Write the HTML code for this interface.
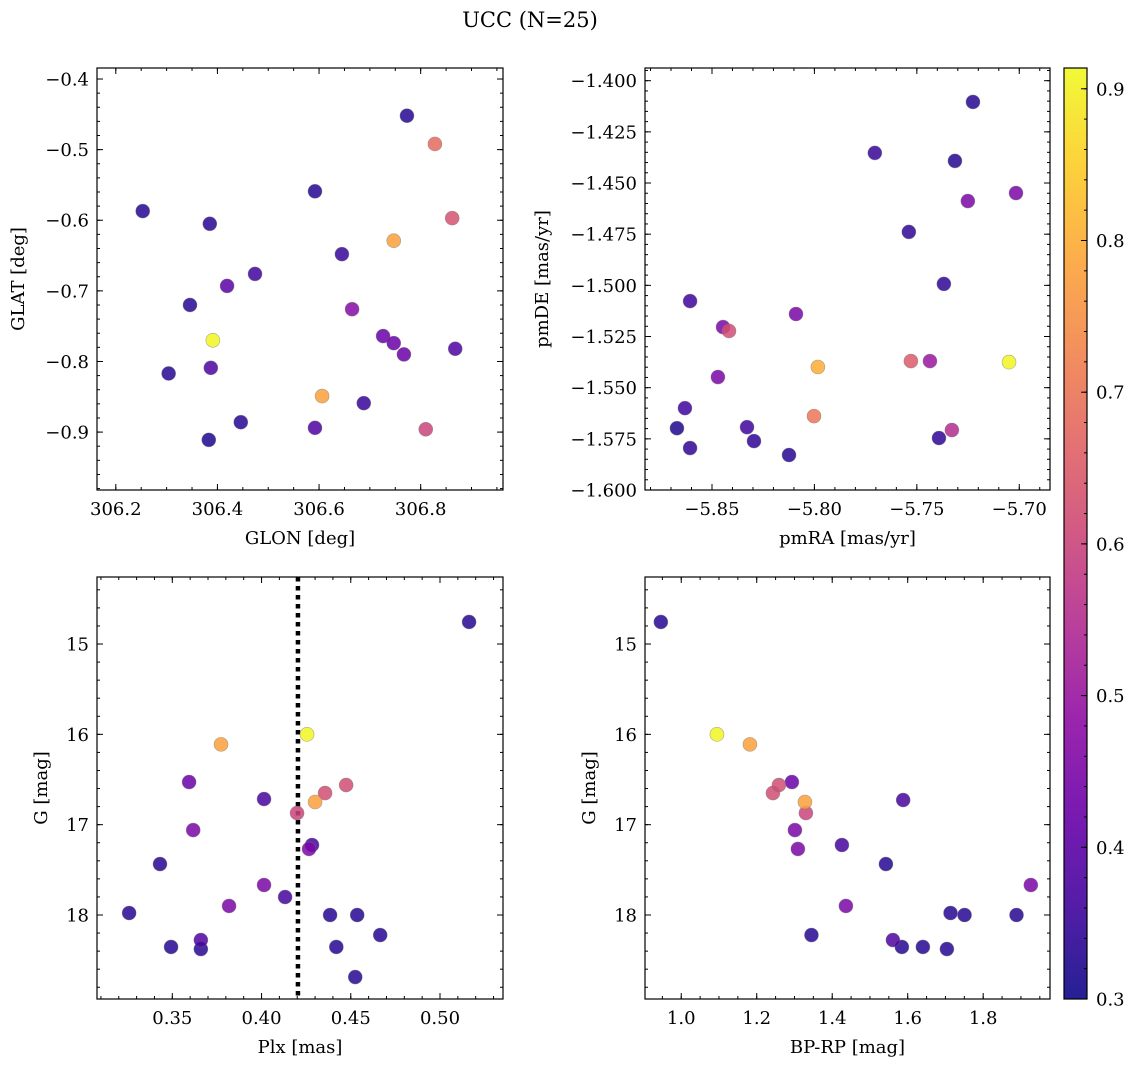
<!DOCTYPE html>
<html><head><meta charset="utf-8"><style>
html,body{margin:0;padding:0;background:#fff;}
svg{display:block;font-family:"DejaVu Serif","Liberation Serif",serif;}
</style></head><body>
<svg id="fig" width="1136" height="1067" viewBox="0 0 1136 1067" xmlns="http://www.w3.org/2000/svg">
<rect width="1136" height="1067" fill="#fff"/>
<text x="530" y="27" font-size="21" text-anchor="middle">UCC (N=25)</text>
<defs><linearGradient id="cbg" x1="0" y1="1" x2="0" y2="0">
<stop offset="0" stop-color="#0d0887"/><stop offset="0.1" stop-color="#41049d"/><stop offset="0.2" stop-color="#6a00a8"/><stop offset="0.3" stop-color="#8f0da4"/><stop offset="0.4" stop-color="#b12a90"/><stop offset="0.5" stop-color="#cc4778"/><stop offset="0.6" stop-color="#e16462"/><stop offset="0.7" stop-color="#f2844b"/><stop offset="0.8" stop-color="#fca636"/><stop offset="0.9" stop-color="#fcce25"/><stop offset="1" stop-color="#f0f921"/>
</linearGradient></defs>
</svg>
<script>
// ---- data ----
const glon = [306.773,306.828,306.253,306.592,306.385,306.862,306.747,306.645,306.474,306.419,306.346,306.665,306.391,306.726,306.747,306.767,306.868,306.304,306.387,306.606,306.688,306.446,306.592,306.810,306.383];
const glat = [-0.452,-0.492,-0.587,-0.559,-0.605,-0.597,-0.629,-0.648,-0.676,-0.693,-0.720,-0.726,-0.770,-0.764,-0.774,-0.790,-0.782,-0.817,-0.809,-0.849,-0.859,-0.886,-0.894,-0.896,-0.911];
const cTL = [0.33,0.68,0.33,0.33,0.33,0.63,0.78,0.35,0.36,0.40,0.33,0.47,0.91,0.42,0.42,0.42,0.38,0.33,0.38,0.78,0.35,0.33,0.38,0.60,0.32];

const pmra = [-5.7226,-5.7705,-5.7314,-5.7251,-5.7016,-5.7539,-5.7368,-5.8607,-5.8090,-5.8446,-5.8417,-5.7529,-5.7436,-5.7050,-5.7983,-5.8471,-5.8632,-5.8002,-5.8671,-5.8329,-5.7329,-5.8607,-5.8295,-5.7392,-5.8124];
const pmde = [-1.4104,-1.4353,-1.4392,-1.4588,-1.4549,-1.4739,-1.4993,-1.5077,-1.5140,-1.5204,-1.5223,-1.5370,-1.5370,-1.5375,-1.5399,-1.5448,-1.5600,-1.5639,-1.5698,-1.5693,-1.5707,-1.5795,-1.5761,-1.5746,-1.5829];
const cTR = [0.33,0.35,0.33,0.45,0.45,0.34,0.34,0.36,0.45,0.45,0.62,0.65,0.50,0.91,0.80,0.45,0.36,0.70,0.32,0.36,0.55,0.34,0.34,0.34,0.33];

const plx = [0.5163,0.4255,0.3773,0.3594,0.4356,0.4474,0.4300,0.4014,0.4199,0.3617,0.4283,0.4266,0.3431,0.4014,0.3818,0.4132,0.3258,0.4384,0.4536,0.3660,0.3493,0.3660,0.4419,0.4665,0.4525];
const gPlx = [14.756,16.000,16.111,16.528,16.650,16.561,16.749,16.716,16.871,17.060,17.225,17.269,17.436,17.668,17.900,17.801,17.978,18.000,18.000,18.277,18.354,18.377,18.354,18.222,18.687];
const cBL = [0.33,0.91,0.78,0.42,0.62,0.62,0.78,0.37,0.60,0.45,0.37,0.45,0.33,0.45,0.45,0.37,0.33,0.33,0.33,0.38,0.33,0.33,0.33,0.33,0.33];
const plxLine = 0.4204;

const bprp = [0.946,1.0946,1.1820,1.2429,1.2588,1.2932,1.3277,1.3303,1.3012,1.3091,1.4257,1.4363,1.5423,1.5880,1.9262,1.7135,1.7506,1.8883,1.3450,1.5608,1.5846,1.6402,1.7038];
const gCmd = [14.756,16.000,16.111,16.650,16.561,16.528,16.749,16.871,17.060,17.269,17.225,17.900,17.436,16.727,17.668,17.978,18.000,18.000,18.222,18.277,18.354,18.354,18.377];
const cBR = [0.33,0.91,0.78,0.62,0.62,0.42,0.78,0.60,0.45,0.45,0.37,0.45,0.33,0.37,0.45,0.33,0.33,0.33,0.33,0.38,0.33,0.33,0.33];

const ticksTLx = [306.2,306.4,306.6,306.8];
const ticksTLy = [-0.4,-0.5,-0.6,-0.7,-0.8,-0.9];
const ticksTRx = [-5.85,-5.80,-5.75,-5.70];
const ticksTRy = [-1.400,-1.425,-1.450,-1.475,-1.500,-1.525,-1.550,-1.575,-1.600];
const ticksBLx = [0.35,0.40,0.45,0.50];
const ticksGy = [15,16,17,18];
const ticksBRx = [1.0,1.2,1.4,1.6,1.8];
const ticksCb = [0.3,0.4,0.5,0.6,0.7,0.8,0.9];
const cbMin = 0.3, cbMax = 0.9137;

// ---- helpers ----
const NS = "http://www.w3.org/2000/svg";
const svg = document.getElementById('fig');
const FS = 18;
function mk(tag, attrs, parent){const e=document.createElementNS(NS,tag);for(const k in attrs)e.setAttribute(k,attrs[k]);(parent||svg).appendChild(e);return e;}
const stops=[[13,8,135],[65,4,157],[106,0,168],[143,13,164],[177,42,144],[204,71,120],[225,100,98],[242,132,75],[252,166,54],[252,206,37],[240,249,33]];
function plasma(v){let t=(v-cbMin)/(cbMax-cbMin);t=Math.max(0,Math.min(1,t))*10;const i=Math.min(9,Math.floor(t)),f=t-i;const a=stops[i],b=stops[i+1];return `rgb(${a.map((c,j)=>Math.round(c+(b[j]-c)*f)).join(',')})`;}
function fmt(v,d){return (v<0?'\u2212':'')+Math.abs(v).toFixed(d);}

function panel(p){
  const g=mk('g',{});
  
  
  const sx=v=>p.x0+(v-p.xmin)/(p.xmax-p.xmin)*(p.x1-p.x0);
  const sy=v=>p.inv? p.y0+(v-p.ymin)/(p.ymax-p.ymin)*(p.y1-p.y0) : p.y1-(v-p.ymin)/(p.ymax-p.ymin)*(p.y1-p.y0);
  const tg=mk('g',{stroke:'#000','stroke-width':1},g);
  const xs=Math.ceil(p.xmin/p.xminor-1e-6);
  for(let k=xs;k*p.xminor<=p.xmax+1e-9;k++){const X=sx(k*p.xminor);mk('line',{x1:X,x2:X,y1:p.y1,y2:p.y1-3},tg);mk('line',{x1:X,x2:X,y1:p.y0,y2:p.y0+3},tg);}
  const ylo=Math.min(p.ymin,p.ymax),yhi=Math.max(p.ymin,p.ymax);
  for(let k=Math.ceil(ylo/p.yminor-1e-6);k*p.yminor<=yhi+1e-9;k++){const Y=sy(k*p.yminor);mk('line',{y1:Y,y2:Y,x1:p.x0,x2:p.x0+3},tg);mk('line',{y1:Y,y2:Y,x1:p.x1,x2:p.x1-3},tg);}
  p.xt.forEach(v=>{const X=sx(v);mk('line',{x1:X,x2:X,y1:p.y1,y2:p.y1-6},tg);mk('line',{x1:X,x2:X,y1:p.y0,y2:p.y0+6},tg);
    const t=mk('text',{x:X,y:p.y1+25,'font-size':FS,'text-anchor':'middle'},g);t.textContent=fmt(v,p.xd);
    
    });
  p.yt.forEach(v=>{const Y=sy(v);if(Y<p.y0-1||Y>p.y1+1)return;mk('line',{y1:Y,y2:Y,x1:p.x0,x2:p.x0+6},tg);mk('line',{y1:Y,y2:Y,x1:p.x1,x2:p.x1-6},tg);
    const t=mk('text',{x:p.x0-8,y:Y+6.5,'font-size':FS,'text-anchor':'end'},g);t.textContent=fmt(v,p.yd);
    
    });
  if(p.vline!==undefined){const X=sx(p.vline);const l=mk('line',{x1:X,x2:X,y1:p.y0,y2:p.y1,stroke:'#000','stroke-width':4.5,'stroke-dasharray':'4.5 4.5'},g);
    
    }
  const idx=p.xs.map((_,i)=>i).sort((a,b)=>p.cs[a]-p.cs[b]);
  idx.forEach(i=>{const c=mk('circle',{cx:sx(p.xs[i]),cy:sy(p.ys[i]),r:7,fill:plasma(p.cs[i]),'fill-opacity':0.85,stroke:'#777','stroke-opacity':0.6,'stroke-width':0.6},g);
    
    });
  mk('rect',{x:p.x0,y:p.y0,width:p.x1-p.x0,height:p.y1-p.y0,fill:'none',stroke:'#000','stroke-width':1.2},g);
  const xl=mk('text',{x:(p.x0+p.x1)/2,y:p.y1+54,'font-size':FS,'text-anchor':'middle'},g);xl.textContent=p.xlab;
  
  
  const yc=(p.y0+p.y1)/2;
  const yl=mk('text',{x:p.ylx,y:yc,'font-size':FS,'text-anchor':'middle',transform:`rotate(-90 ${p.ylx} ${yc})`},g);yl.textContent=p.ylab;
  
  
}

panel({name:'glon-glat-panel',x0:97,x1:503,y0:68,y1:490,xmin:306.163,xmax:306.962,ymin:-0.982,ymax:-0.3844,xminor:0.05,yminor:0.02,xt:ticksTLx,yt:ticksTLy,xd:1,yd:1,xs:glon,ys:glat,cs:cTL,xlab:'GLON [deg]',ylab:'GLAT [deg]',ylx:24});
panel({name:'proper-motion-panel',x0:645,x1:1050,y0:68,y1:490,xmin:-5.8827,xmax:-5.685,ymin:-1.6,ymax:-1.3938,xminor:0.01,yminor:0.005,xt:ticksTRx,yt:ticksTRy,xd:2,yd:3,xs:pmra,ys:pmde,cs:cTR,xlab:'pmRA [mas/yr]',ylab:'pmDE [mas/yr]',ylx:548});
panel({name:'parallax-magnitude-panel',x0:97,x1:503,y0:577,y1:999,xmin:0.3078,xmax:0.5353,ymin:14.258,ymax:18.93,inv:true,xminor:0.01,yminor:0.2,xt:ticksBLx,yt:ticksGy,xd:2,yd:0,xs:plx,ys:gPlx,cs:cBL,xlab:'Plx [mas]',ylab:'G [mag]',ylx:47,vline:plxLine});
panel({name:'color-magnitude-panel',x0:645,x1:1050,y0:577,y1:999,xmin:0.904,xmax:1.977,ymin:14.258,ymax:18.93,inv:true,xminor:0.05,yminor:0.2,xt:ticksBRx,yt:ticksGy,xd:1,yd:0,xs:bprp,ys:gCmd,cs:cBR,xlab:'BP-RP [mag]',ylab:'G [mag]',ylx:595});

// colorbar
const cb=mk('g',{});


const cx0=1064,cx1=1087,cy0=68,cy1=999;
mk('rect',{x:cx0,y:cy0,width:cx1-cx0,height:cy1-cy0,fill:'url(#cbg)',opacity:0.9},cb);
const cys=v=>cy1-(v-cbMin)/(cbMax-cbMin)*(cy1-cy0);
for(let k=15;k*0.02<=cbMax+1e-9;k++){const Y=cys(k*0.02);mk('line',{x1:cx1,x2:cx1-3,y1:Y,y2:Y,stroke:'#000'},cb);}
ticksCb.forEach(v=>{const Y=cys(v);mk('line',{x1:cx1,x2:cx1-6,y1:Y,y2:Y,stroke:'#000'},cb);
  const t=mk('text',{x:cx1+9,y:Y+6.5,'font-size':FS},cb);t.textContent=v.toFixed(1);
  
  });
mk('rect',{x:cx0,y:cy0,width:cx1-cx0,height:cy1-cy0,fill:'none',stroke:'#000','stroke-width':1.2},cb);
</script>
</body></html>
